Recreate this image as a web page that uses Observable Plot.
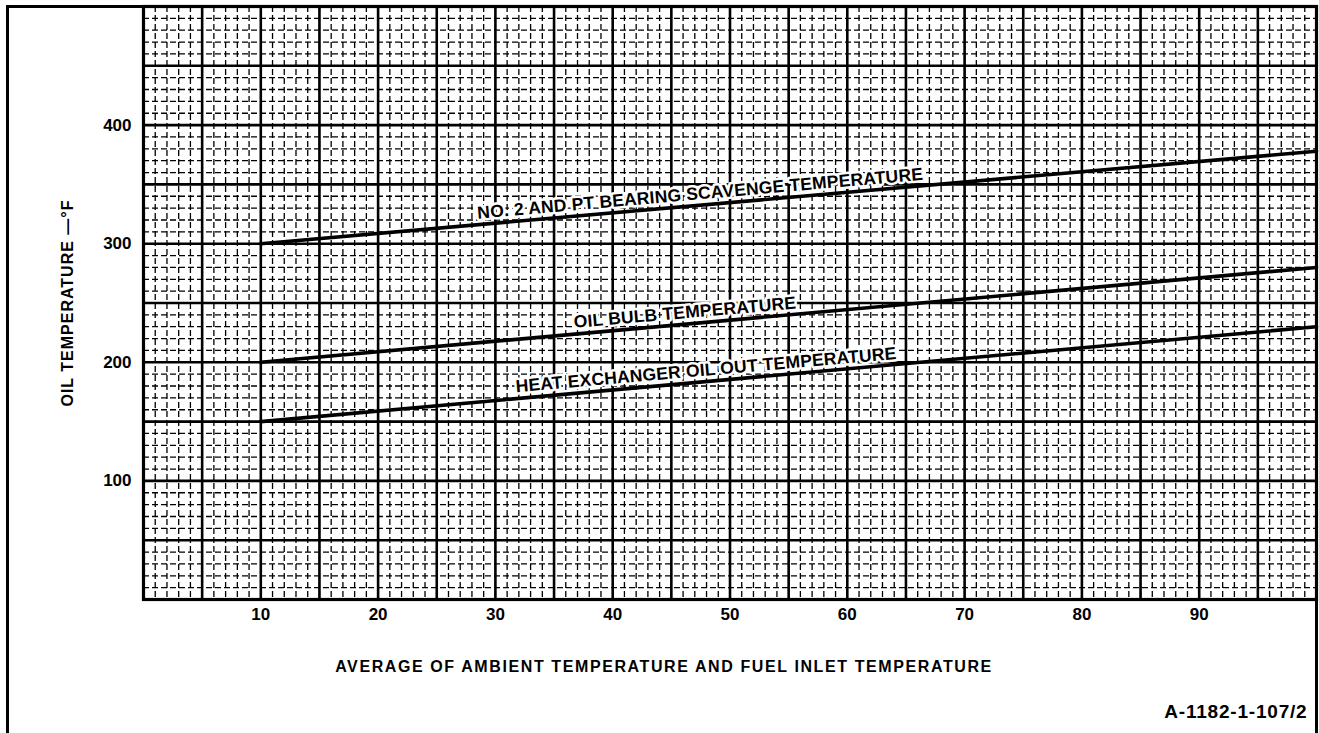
<!DOCTYPE html>
<html><head><meta charset="utf-8">
<script src="https://cdn.jsdelivr.net/npm/d3@7"></script>
<script src="https://cdn.jsdelivr.net/npm/@observablehq/plot@0.6"></script>
<style>html,body{margin:0;padding:0;background:#fff} svg{display:block}</style>
</head><body><div id="chart"></div>
<script>
// Tick labels
const xTicks = [10, 20, 30, 40, 50, 60, 70, 80, 90];
const yTicks = [100, 200, 300, 400];
// Series (straight lines)
const seriesNames = ["NO. 2 AND PT BEARING SCAVENGE TEMPERATURE", "OIL BULB TEMPERATURE", "HEAT EXCHANGER OIL OUT TEMPERATURE"];
const seriesX = [10, 100];
const scavengeY = [300, 378];
const oilBulbY = [200, 280];
const heatExchY = [150, 230];
const labelX = [47.5, 46.2, 48];
// Grid
const minorX = d3.range(0, 101, 1);
const majorX = d3.range(0, 101, 5);
const minorY = d3.range(0, 501, 10);
const majorY = d3.range(0, 501, 50);
const xLabel = "AVERAGE OF AMBIENT TEMPERATURE AND FUEL INLET TEMPERATURE";
const yLabel = "OIL TEMPERATURE \u2014\u00B0F";
const caption = "A-1182-1-107/2";

const allY = [scavengeY, oilBulbY, heatExchY];
const lineData = allY.flatMap((ys, i) => seriesX.map((x, j) => ({series: seriesNames[i], x, y: ys[j]})));
const labelData = allY.map((ys, i) => {
  const t = (labelX[i] - seriesX[0]) / (seriesX[1] - seriesX[0]);
  return {text: seriesNames[i], x: labelX[i], y: ys[0] + t * (ys[1] - ys[0])};
});

const font = "'Liberation Sans', Arial, Helvetica, sans-serif";
const plot = Plot.plot({
  width: 1319, height: 733,
  marginLeft: 143, marginRight: 3, marginTop: 6, marginBottom: 134,
  x: {domain: [0, 100]},
  y: {domain: [0, 500]},
  style: {fontFamily: font, fontWeight: "bold", background: "#fff", color: "#000"},
  marks: [
    Plot.ruleX(minorX, {stroke: "#000", strokeWidth: 1.3, strokeDasharray: "6,3"}),
    Plot.ruleY(minorY, {stroke: "#000", strokeWidth: 1.3, strokeDasharray: "6,3"}),
    Plot.ruleX(majorX, {stroke: "#000", strokeWidth: 2.6}),
    Plot.ruleY(majorY, {stroke: "#000", strokeWidth: 2.6}),
    Plot.frame({stroke: "#000", strokeWidth: 3.2}),
    Plot.frame({stroke: "#000", strokeWidth: 3, insetLeft: -136, insetBottom: -140}),
    Plot.axisX({ticks: xTicks, tickSize: 0, tickPadding: 8, fontSize: 17, fontWeight: "bold", label: null}),
    Plot.axisY({ticks: yTicks, tickSize: 0, tickPadding: 12, fontSize: 17, fontWeight: "bold", label: null}),
    Plot.text(labelData, {x: "x", y: "y", text: "text", rotate: -5, lineAnchor: "bottom", dy: -6,
      fontSize: 17.5, fontWeight: "bold", fill: "#000", stroke: "#fff", strokeWidth: 5, paintOrder: "stroke"}),
    Plot.line(lineData, {x: "x", y: "y", z: "series", stroke: "#000", strokeWidth: 3.6}),
    Plot.text([xLabel], {frameAnchor: "bottom", dx: -66, dy: 72, fontSize: 16, fontWeight: "bold", fill: "#000"}),
    Plot.text([yLabel], {frameAnchor: "left", textAnchor: "middle", dx: -76, rotate: -90, fontSize: 16, fontWeight: "bold", fill: "#000"}),
    Plot.text([caption], {frameAnchor: "bottom-right", textAnchor: "end", dx: -9, dy: 118, fontSize: 19, fontWeight: "bold", fill: "#000"})
  ]
});
const svg = d3.select(plot);
svg.selectAll("text").filter(function() { return this.textContent === xLabel; }).attr("letter-spacing", 1.6);
svg.selectAll("text").filter(function() { return this.textContent === yLabel; }).attr("letter-spacing", 1.0);
svg.selectAll("text").filter(function() { return this.textContent === caption; }).attr("letter-spacing", 0.8);
svg.selectAll("text").filter(function() { return seriesNames.includes(this.textContent); }).attr("letter-spacing", 0.2);
document.getElementById("chart").appendChild(plot);
</script></body></html>
